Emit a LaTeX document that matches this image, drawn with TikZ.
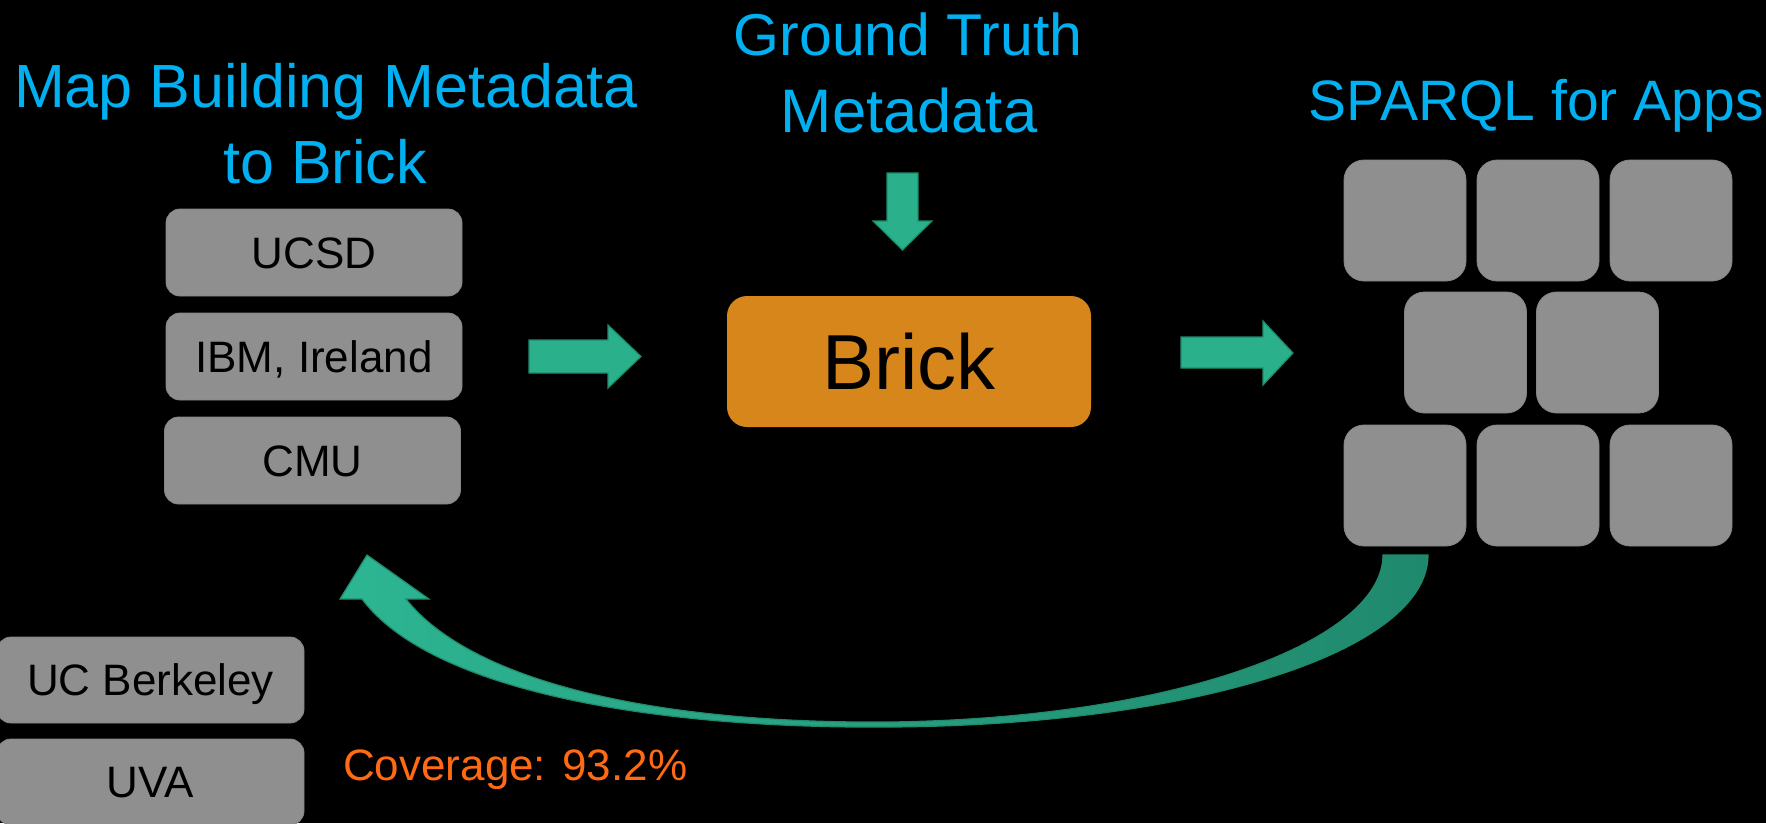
\documentclass[tikz,border=0pt]{standalone}
\usepackage{fontspec}
\setmainfont{Liberation Sans}
\definecolor{titleblue}{HTML}{00B0F0}
\definecolor{boxgray}{HTML}{8F8F8F}
\definecolor{boxedge}{HTML}{858585}
\definecolor{brickorange}{HTML}{D6861A}
\definecolor{arrowfill}{HTML}{2BB08C}
\definecolor{arrowedge}{HTML}{1F8A6C}
\definecolor{arrowlight}{HTML}{2DB592}
\definecolor{arrowdark}{HTML}{20896D}
\definecolor{covorange}{HTML}{FF6A13}
\begin{document}
\begin{tikzpicture}[x=1pt,y=-1pt,
  titletext/.style={text=titleblue, inner sep=0pt, anchor=base},
  sitebox/.style={fill=boxgray, draw=boxedge, line width=0.8pt, rounded corners=14pt,
    inner sep=0pt, font=\fontsize{44}{52}\selectfont, text=black,
    text height=31.5pt, text depth=0pt},
  tile/.style={fill=boxgray, draw=boxedge, line width=0.8pt, rounded corners=20pt,
    minimum width=122pt, minimum height=121pt, inner sep=0pt},
  blockarrow/.style={fill=arrowfill, draw=arrowedge, line width=1.2pt, line join=miter}
]
\useasboundingbox (0,0) rectangle (1766,823);
\fill[black] (0,0) rectangle (1766,823);
\clip (0,0) rectangle (1766,823);

% titles
\node[titletext, font=\fontsize{61}{70}\selectfont] (t1a) at (326,107) {Map Building Metadata};
\node[titletext, font=\fontsize{61}{70}\selectfont] (t1b) at (325,183) {to Brick};
\node[titletext, font=\fontsize{59}{70}\selectfont] (t2a) at (908,55) {Ground Truth};
\node[titletext, font=\fontsize{61.5}{70}\selectfont] (t2b) at (909,132) {Metadata};
\node[titletext, font=\fontsize{57}{70}\selectfont] (t3) at (1536,120) {SPARQL for Apps};

% left boxes
\node[sitebox, minimum width=296pt, minimum height=87pt] (ucsd) at (314,252.5) {UCSD};
\node[sitebox, minimum width=296pt, minimum height=87pt] (ibm) at (314,356.5) {IBM, Ireland};
\node[sitebox, minimum width=296pt, minimum height=87pt] (cmu) at (312.5,460.5) {CMU};
\node[sitebox, minimum width=307pt, minimum height=86pt] (ucb) at (150.5,680) {UC Berkeley};
\node[sitebox, minimum width=307pt, minimum height=86pt] (uva) at (150.5,782) {UVA};

% brick
\node[fill=brickorange, rounded corners=20pt, minimum width=364pt, minimum height=131pt,
  inner sep=0pt, font=\fontsize{78}{90}\selectfont, text=black,
  text height=56pt, text depth=0pt] (brick) at (909,361.5) {Brick};

% tiles
\node[tile] (g1) at (1405,220.5) {};
\node[tile] (g2) at (1538,220.5) {};
\node[tile] (g3) at (1671,220.5) {};
\node[tile] (g4) at (1465.5,352.5) {};
\node[tile] (g5) at (1597.5,352.5) {};
\node[tile] (g6) at (1405,485.5) {};
\node[tile] (g7) at (1538,485.5) {};
\node[tile] (g8) at (1671,485.5) {};

% block arrows
\path[blockarrow] (529,340) -- (608,340) -- (608,325) -- (641,356.5) -- (608,388) -- (608,373) -- (529,373) -- cycle;
\path[blockarrow] (1181,337) -- (1263,337) -- (1263,321) -- (1293,353) -- (1263,385) -- (1263,368) -- (1181,368) -- cycle;
\path[blockarrow] (887,173) -- (918,173) -- (918,221) -- (932,221) -- (902.5,250) -- (873,221) -- (887,221) -- cycle;

% curved return arrow
\path[left color=arrowlight, right color=arrowdark, draw=arrowedge, line width=1.2pt, line join=miter]
  (1383,555) -- (1428,555)
  .. controls (1428,650) and (1200,725) .. (890,727)
  .. controls (650,729) and (430,690) .. (362,599)
  -- (340,599) -- (367,555) -- (429,599) -- (406,599)
  .. controls (470,680) and (650,724) .. (890,722)
  .. controls (1180,718) and (1383,640) .. (1383,555) -- cycle;

% coverage
\node[text=covorange, font=\fontsize{44}{52}\selectfont, inner sep=0pt, anchor=base west] (cov) at (343,780) {Coverage: 93.2\%};
\end{tikzpicture}
\end{document}
